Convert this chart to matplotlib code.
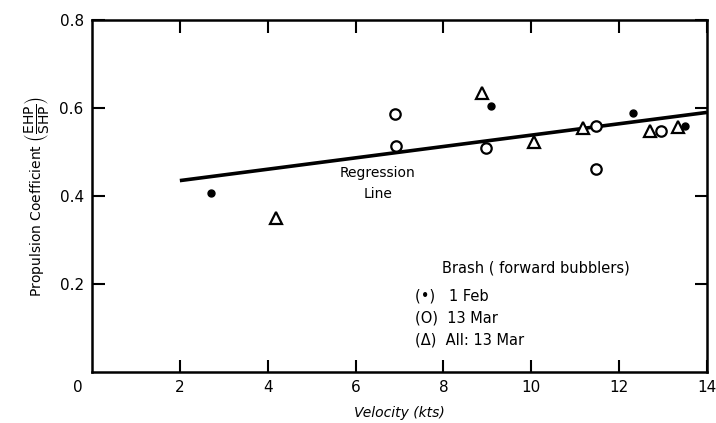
import matplotlib
matplotlib.use("Agg")
import matplotlib.pyplot as plt

# Data
feb1_x = [2.71, 9.08, 12.32, 13.5]
feb1_y = [0.407, 0.605, 0.589, 0.559]

mar13_x = [6.90, 6.92, 8.97, 11.47, 11.47, 12.95]
mar13_y = [0.586, 0.514, 0.509, 0.559, 0.461, 0.548]

all13_x = [4.19, 8.88, 10.06, 11.18, 12.70, 13.34]
all13_y = [0.350, 0.634, 0.523, 0.555, 0.548, 0.557]

reg_x = [2, 14]
reg_y = [0.435, 0.590]

x_ticks = [2, 4, 6, 8, 10, 12, 14]
y_ticks = [0.2, 0.4, 0.6, 0.8]

plt.rcParams['font.family'] = ['DejaVu Sans']

fig = plt.figure(figsize=(7.16, 4.23), dpi=100)
ax = fig.add_axes([0.1285, 0.1206, 0.8589, 0.8321])

ax.plot(reg_x, reg_y, color='black', lw=2.6, solid_capstyle='butt', zorder=2)
ax.plot(feb1_x, feb1_y, 'o', color='black', ms=5, zorder=3)
ax.plot(mar13_x, mar13_y, 'o', mfc='white', mec='black', mew=1.6, ms=7.5, zorder=3)
ax.plot(all13_x, all13_y, '^', mfc='white', mec='black', mew=1.6, ms=9, zorder=3)

ax.set_xlim(0, 14)
ax.set_ylim(0, 0.8)
ax.set_xticks(x_ticks)
ax.set_xticklabels([str(t) for t in x_ticks], fontsize=11)
ax.set_yticks(y_ticks)
ax.set_yticklabels([f"{t:.1f}" for t in y_ticks], fontsize=11)
ax.tick_params(direction='in', length=9, width=1.5, top=True, right=True, pad=6)
for s in ax.spines.values():
    s.set_linewidth(1.8)

ax.text(-0.0228, -0.043, "0", transform=ax.transAxes, ha='center', va='center', fontsize=11)

ax.set_xlabel("Velocity (kts)", fontsize=10, style='italic', labelpad=8)
ax.set_ylabel(r"Propulsion Coefficient $\left(\dfrac{\mathrm{EHP}}{\mathrm{SHP}}\right)$",
              fontsize=10, labelpad=6)

ax.text(6.51, 0.452, "Regression", ha='center', va='center', fontsize=10)
ax.text(6.51, 0.405, "Line", ha='center', va='center', fontsize=10)

ax.text(0.569, 0.295, "Brash ( forward bubblers)", transform=ax.transAxes,
        ha='left', va='center', fontsize=10.5)
ax.text(0.525, 0.216, "(\u2022)   1 Feb", transform=ax.transAxes, ha='left', va='center', fontsize=10.5)
ax.text(0.525, 0.153, "(O)  13 Mar", transform=ax.transAxes, ha='left', va='center', fontsize=10.5)
ax.text(0.525, 0.091, "(\u0394)  All: 13 Mar", transform=ax.transAxes, ha='left', va='center', fontsize=10.5)

fig.savefig("out.png", dpi=100)
